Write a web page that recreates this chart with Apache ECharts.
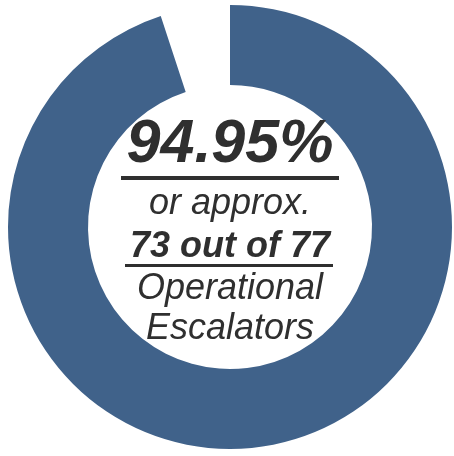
<!DOCTYPE html>
<html>
<head>
<meta charset="utf-8">
<script src="https://cdn.jsdelivr.net/npm/echarts@6/dist/echarts.min.js"></script>
<style>
html,body{margin:0;padding:0;background:#fff;}
#chart{width:454px;height:456px;}
</style>
</head>
<body>
<div id="chart"></div>
<script>
// Data
const categories = ['Operational', 'Not operational'];
const percentValues = [94.95, 5.05];
const headlineText = '94.95%';
const approxText = 'or approx.';
const countText = '73 out of 77';
const labelLines = ['Operational', 'Escalators'];

const chart = echarts.init(document.getElementById('chart'), null, {renderer: 'canvas'});
const FONT = '"Liberation Sans", Arial, sans-serif';
const TXT = '#2f2f2f';
const CX = 230;

chart.setOption({
  animation: false,
  backgroundColor: '#ffffff',
  series: [{
    type: 'pie',
    center: [CX, 227],
    radius: [142, 222],
    startAngle: 90,
    clockwise: true,
    silent: true,
    label: {show: false},
    labelLine: {show: false},
    data: categories.map((c, i) => ({
      name: c,
      value: percentValues[i],
      itemStyle: {color: i === 0 ? '#40628a' : 'rgba(0,0,0,0)'}
    }))
  }],
  graphic: [
    {type: 'text', x: CX, y: 145, z: 10, style: {text: headlineText, font: 'italic bold 61px ' + FONT, fill: TXT, align: 'center', verticalAlign: 'middle'}},
    {type: 'rect', z: 10, shape: {x: 121, y: 176, width: 218, height: 4}, style: {fill: TXT}},
    {type: 'text', x: CX, y: 204, z: 10, style: {text: approxText, font: 'italic 36px ' + FONT, fill: TXT, align: 'center', verticalAlign: 'middle'}},
    {type: 'text', x: CX, y: 247, z: 10, style: {text: countText, font: 'italic bold 36px ' + FONT, fill: TXT, align: 'center', verticalAlign: 'middle'}},
    {type: 'rect', z: 10, shape: {x: 125, y: 264, width: 208, height: 3}, style: {fill: TXT}},
    {type: 'text', x: CX, y: 289, z: 10, style: {text: labelLines[0], font: 'italic 36px ' + FONT, fill: TXT, align: 'center', verticalAlign: 'middle'}},
    {type: 'text', x: CX, y: 329, z: 10, style: {text: labelLines[1], font: 'italic 36px ' + FONT, fill: TXT, align: 'center', verticalAlign: 'middle'}}
  ]
});
</script>
</body>
</html>
